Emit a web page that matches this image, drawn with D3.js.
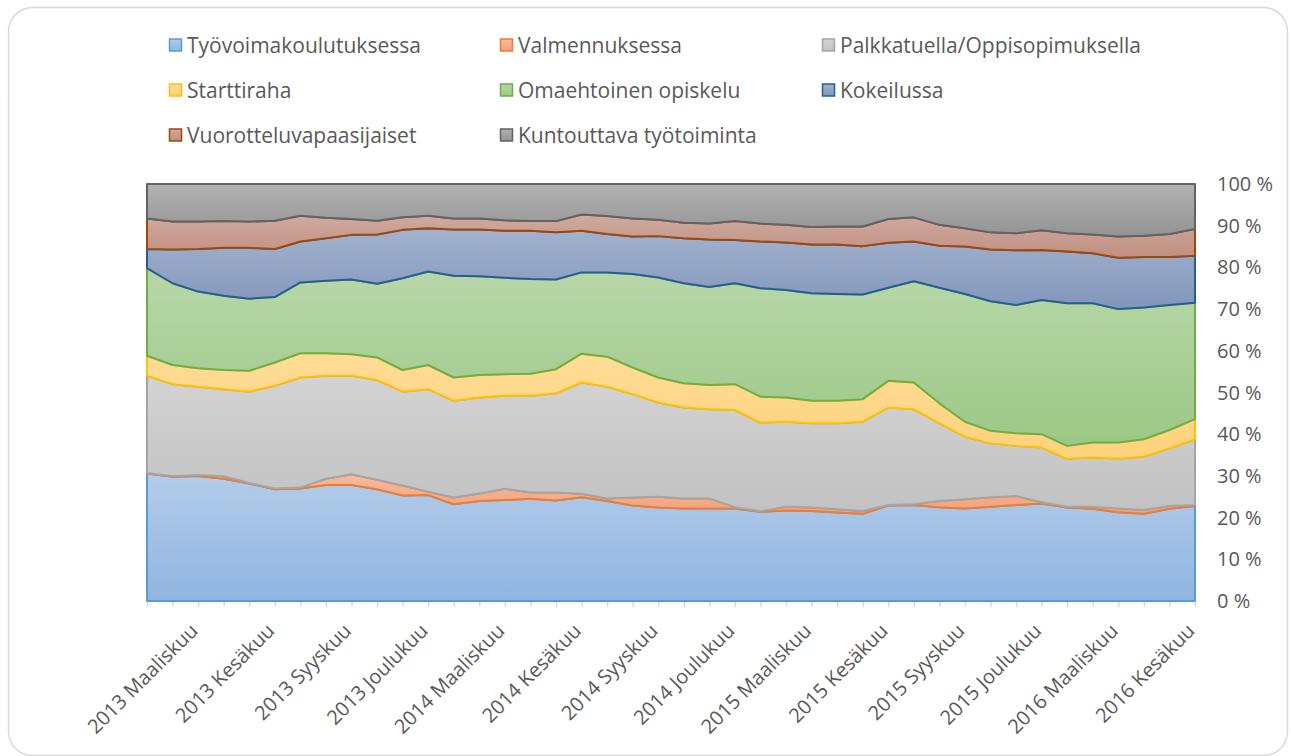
<!DOCTYPE html>
<html>
<head>
<meta charset="utf-8">
<script src="https://cdn.jsdelivr.net/npm/d3@7"></script>
<style>
  body { margin: 0; background: #fff; }
  text { font-family: "Open Sans", sans-serif; fill: #595959; }
</style>
</head>
<body>
<svg id="chart" width="1291" height="756"></svg>
<script>
// categories: Jan 2013 .. Jun 2016
const years = [2013, 2014, 2015, 2016];
const monthNames = ["Tammikuu", "Helmikuu", "Maaliskuu", "Huhtikuu", "Toukokuu", "Kesäkuu",
    "Heinäkuu", "Elokuu", "Syyskuu", "Lokakuu", "Marraskuu", "Joulukuu"];
const months = [];
years.forEach(yr => monthNames.forEach(m => months.push(yr + " " + m)));
months.length = 42;

const seriesNames = ["Työvoimakoulutuksessa", "Valmennuksessa", "Palkkatuella/Oppisopimuksella",
    "Starttiraha", "Omaehtoinen opiskelu", "Kokeilussa", "Vuorotteluvapaasijaiset", "Kuntouttava työtoiminta"];

// shares in %
const tyovoima = [30.6, 29.8, 30.0, 29.3, 28.2, 26.8, 27.0, 27.8, 27.8, 26.8, 25.3, 25.4, 23.2, 24.0,
    24.2, 24.5, 24.1, 24.9, 24.0, 22.9, 22.4, 22.2, 22.2, 22.2, 21.4, 21.7, 21.6, 21.2,
    20.9, 22.9, 23.0, 22.5, 22.2, 22.6, 23.0, 23.4, 22.4, 22.1, 21.3, 20.9, 22.1, 22.8];
const valmennus = [0.1, 0.1, 0.2, 0.6, 0.1, 0.2, 0.2, 1.5, 2.6, 2.3, 2.4, 0.8, 1.6, 1.8,
    2.7, 1.5, 1.9, 0.8, 0.6, 1.9, 2.6, 2.4, 2.4, 0.3, 0.1, 0.9, 0.8, 0.8,
    0.7, 0.1, 0.2, 1.5, 2.2, 2.3, 2.2, 0.3, 0.2, 0.5, 0.9, 0.9, 0.7, 0.2];
const palkkatuki = [23.3, 22.1, 21.2, 20.9, 21.9, 24.6, 26.4, 24.7, 23.6, 23.9, 22.5, 24.6, 23.2, 23.0,
    22.3, 23.2, 23.8, 26.7, 26.8, 24.8, 22.6, 21.8, 21.4, 23.3, 21.3, 20.4, 20.2, 20.6,
    21.4, 23.4, 22.8, 18.6, 15.0, 12.9, 12.0, 13.1, 11.5, 11.8, 12.0, 12.8, 13.8, 15.8];
const starttiraha = [4.8, 4.6, 4.4, 4.6, 5.0, 5.6, 5.8, 5.4, 5.2, 5.4, 5.2, 5.8, 5.6, 5.4,
    5.2, 5.3, 5.8, 6.9, 7.2, 6.4, 6.0, 5.8, 5.8, 6.2, 6.2, 5.8, 5.4, 5.4,
    5.4, 6.4, 6.4, 4.8, 3.6, 3.0, 3.0, 3.2, 3.1, 3.6, 3.8, 4.2, 4.4, 4.8];
const omaehtoinen = [21.0, 19.6, 18.4, 17.8, 17.3, 15.7, 17.0, 17.4, 17.9, 17.7, 22.0, 22.4, 24.4, 23.7,
    23.1, 22.7, 21.5, 19.5, 20.2, 22.4, 24.0, 24.0, 23.5, 24.2, 26.0, 25.8, 25.8, 25.6,
    25.1, 22.3, 24.3, 27.7, 30.6, 31.1, 30.8, 32.2, 34.2, 33.4, 32.0, 31.6, 30.0, 27.9];
const kokeilu = [4.6, 8.1, 10.2, 11.5, 12.2, 11.5, 9.8, 10.2, 10.7, 11.8, 11.6, 10.4, 11.1, 11.2,
    11.3, 11.6, 11.3, 10.0, 9.2, 9.0, 9.9, 10.8, 11.4, 10.4, 11.2, 11.4, 11.7, 11.9,
    11.6, 10.8, 9.5, 10.1, 11.4, 12.4, 13.1, 12.0, 12.4, 12.0, 12.3, 12.1, 11.5, 11.3];
const vuorottelu = [7.3, 6.7, 6.6, 6.4, 6.3, 6.8, 6.2, 4.9, 3.8, 3.3, 3.0, 3.0, 2.6, 2.6,
    2.5, 2.3, 2.7, 3.9, 4.3, 4.3, 3.9, 3.7, 3.8, 4.5, 4.3, 4.2, 4.2, 4.3,
    4.7, 5.7, 5.8, 5.0, 4.4, 4.1, 4.1, 4.7, 4.4, 4.5, 5.1, 5.1, 5.5, 6.4];
const kuntouttava = [8.3, 9.0, 9.0, 8.9, 9.0, 8.8, 7.6, 8.1, 8.4, 8.8, 8.0, 7.6, 8.3, 8.3,
    8.7, 8.9, 8.9, 7.3, 7.7, 8.3, 8.6, 9.3, 9.5, 8.9, 9.5, 9.8, 10.3, 10.2,
    10.2, 8.4, 8.0, 9.8, 10.6, 11.6, 11.8, 11.1, 11.8, 12.1, 12.6, 12.4, 12.0, 10.8];

const seriesValues = [tyovoima, valmennus, palkkatuki, starttiraha, omaehtoinen, kokeilu, vuorottelu, kuntouttava];
const yTicks = [0, 0.1, 0.2, 0.3, 0.4, 0.5, 0.6, 0.7, 0.8, 0.9, 1];

// colours: [gradient top, gradient bottom, outline]
const colors = [
    ["#b3ccea", "#90b5e0", "#5b9bd5"],
    ["#f7bb9f", "#f2a17c", "#ed7d31"],
    ["#d3d3d3", "#c2c2c2", "#a5a5a5"],
    ["#ffdc96", "#fed27c", "#ffc000"],
    ["#b8d7a9", "#9cc886", "#70ad47"],
    ["#a3b3ce", "#8296bb", "#255e91"],
    ["#d0aaa0", "#c08f80", "#9e480e"],
    ["#b2b2b2", "#939393", "#636363"]
];

const table = months.map((m, i) => {
    const row = { month: m };
    seriesNames.forEach((s, k) => row[s] = seriesValues[k][i]);
    return row;
});

const svg = d3.select("#chart");

// outer frame
svg.append("rect")
    .attr("x", 8.5).attr("y", 7.5)
    .attr("width", 1279).attr("height", 748)
    .attr("rx", 24)
    .attr("fill", "#fff")
    .attr("stroke", "#d9d9d9")
    .attr("stroke-width", 1.5);

const plotLeft = 147, plotRight = 1195, plotTop = 184, plotBottom = 601;

const x = d3.scalePoint().domain(months).range([plotLeft, plotRight]);
const y = d3.scaleLinear().domain([0, 1]).range([plotBottom, plotTop]);

const defs = svg.append("defs");
colors.forEach((c, k) => {
    const g = defs.append("linearGradient")
        .attr("id", "grad" + k)
        .attr("x1", 0).attr("y1", 0).attr("x2", 0).attr("y2", 1);
    g.append("stop").attr("offset", "0%").attr("stop-color", c[0]);
    g.append("stop").attr("offset", "100%").attr("stop-color", c[1]);
});

const stacked = d3.stack()
    .keys(seriesNames)
    .offset(d3.stackOffsetExpand)(table);

const area = d3.area()
    .x(d => x(d.data.month))
    .y0(d => y(d[0]))
    .y1(d => y(d[1]));

// bottom axis line + ticks
const xAxis = svg.append("g")
    .attr("transform", `translate(0,${plotBottom})`)
    .call(d3.axisBottom(x).tickSize(6).tickFormat("").tickSizeOuter(0));
xAxis.select(".domain").attr("stroke", "#d9d9d9").attr("stroke-width", 1.5);
xAxis.selectAll(".tick line").attr("stroke", "#d9d9d9").attr("stroke-width", 1.5);

// areas
svg.append("g")
    .selectAll("path")
    .data(stacked)
    .enter().append("path")
    .attr("d", area)
    .attr("fill", (d, k) => `url(#grad${k})`)
    .attr("stroke", (d, k) => colors[k][2])
    .attr("stroke-width", 2)
    .attr("stroke-linejoin", "round");

// x labels, every third month starting from March
svg.append("g")
    .selectAll("text")
    .data(months.filter((m, i) => i % 3 === 2))
    .enter().append("text")
    .attr("transform", d => `translate(${x(d) + 1},632) rotate(-45)`)
    .attr("text-anchor", "end")
    .attr("font-size", 20)
    .text(d => d);

// y labels on the right
svg.append("g")
    .selectAll("text")
    .data(yTicks)
    .enter().append("text")
    .attr("x", 1217)
    .attr("y", d => y(d))
    .attr("dy", "0.35em")
    .attr("font-size", 20)
    .text(d => Math.round(d * 100) + " %");

// legend, three columns
const legendCols = [169, 500, 822];
const legend = svg.append("g")
    .selectAll("g")
    .data(seriesNames)
    .enter().append("g")
    .attr("transform", (d, k) => `translate(${legendCols[k % 3]},${45 + Math.floor(k / 3) * 45})`);

legend.append("rect")
    .attr("x", 0.5).attr("y", -6)
    .attr("width", 12).attr("height", 12)
    .attr("fill", (d, k) => `url(#grad${k})`)
    .attr("stroke", (d, k) => colors[k][2])
    .attr("stroke-width", 1.5);

legend.append("text")
    .attr("x", 18)
    .attr("y", 0)
    .attr("dy", "0.36em")
    .attr("font-size", 21)
    .text(d => d);
</script>
</body>
</html>
